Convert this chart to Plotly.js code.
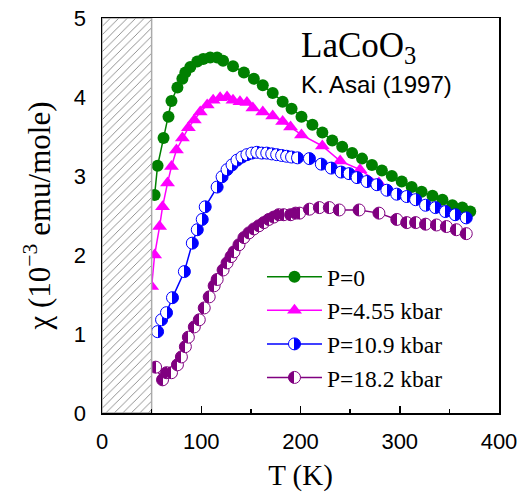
<!DOCTYPE html>
<html>
<head>
<meta charset="utf-8">
<script src="https://cdn.plot.ly/plotly-3.0.1.min.js"></script>
<style>html,body{margin:0;padding:0;background:#fff;}#chart{width:528px;height:492px;}</style>
</head>
<body>
<div id="chart"></div>
<script>
// P = 0
const T_p0 = [53,56,62,67,70,76,81,84,89,96,102,109,116,122,132,143,153,162,172,182,191,201,212,222,232,242,252,262,272,282,292,302,312,322,333,343,353,363,371];
const chi_p0 = [2.76,3.13,3.48,3.75,3.95,4.12,4.23,4.31,4.38,4.45,4.48,4.50,4.50,4.46,4.39,4.31,4.23,4.15,4.05,3.94,3.85,3.75,3.65,3.55,3.45,3.37,3.29,3.22,3.14,3.07,3.00,2.93,2.86,2.80,2.75,2.70,2.63,2.60,2.55];
// P = 4.55 kbar
const T_p455 = [50,53,58,61,66,70,75,81,87,93,99,106,112,119,126,132,139,146,152,162,172,182,190,201,222,240,260,279,300];
const chi_p455 = [1.60,2.00,2.36,2.61,2.91,3.12,3.33,3.48,3.61,3.71,3.81,3.90,3.96,3.99,4.00,3.96,3.94,3.93,3.86,3.81,3.76,3.69,3.62,3.52,3.38,3.19,3.08,2.91,2.75];
// P = 10.9 kbar
const T_p109 = [56,60,65,71,83,91,96,101,104,116,121,126,131,136,141,146,151,156,161,166,171,176,181,186,191,197,209,221,231,241,249,257,267,277,287,297,307,316,326,336,346,356,367];
const chi_p109 = [1.03,1.18,1.27,1.46,1.79,2.15,2.32,2.45,2.61,2.86,2.99,3.08,3.14,3.20,3.24,3.27,3.29,3.30,3.29,3.29,3.28,3.27,3.26,3.25,3.24,3.23,3.22,3.15,3.10,3.05,3.03,2.98,2.93,2.89,2.82,2.77,2.74,2.70,2.63,2.60,2.55,2.51,2.47];
// P = 18.2 kbar
const T_p182 = [54,61,65,70,76,80,84,87,93,98,103,108,113,116,122,126,130,133,138,143,148,153,158,163,168,173,178,183,190,195,199,209,219,229,239,259,279,297,307,316,326,337,347,357,367];
const chi_p182 = [0.58,0.42,0.51,0.51,0.61,0.71,0.84,0.96,1.09,1.18,1.33,1.47,1.61,1.69,1.81,1.90,1.98,2.04,2.13,2.22,2.28,2.33,2.37,2.41,2.45,2.48,2.51,2.51,2.51,2.53,2.53,2.58,2.60,2.60,2.57,2.57,2.53,2.45,2.41,2.41,2.39,2.38,2.36,2.32,2.27];
// excluded low-temperature region (hatched)
const hatchT = [0, 50, 50, 0, 0];
const hatchChi = [0, 0, 5, 5, 0];

const seriesNames = ['P=0', 'P=4.55 kbar', 'P=10.9 kbar', 'P=18.2 kbar'];

const traces = [
  {x:T_p0, y:chi_p0, name:seriesNames[0], mode:'lines+markers',
   line:{color:'#008000', width:1.5}, marker:{symbol:'circle', size:12, color:'#008000'}},
  {x:T_p455, y:chi_p455, name:seriesNames[1], mode:'lines+markers',
   line:{color:'#ff00ff', width:1.5}, marker:{symbol:'triangle-up', size:13, color:'#ff00ff'}},
  {x:T_p109, y:chi_p109, name:seriesNames[2], mode:'lines+markers',
   line:{color:'#0000ff', width:1.5},
   marker:{symbol:'circle', size:12, color:'#0000ff', gradient:{type:'horizontal', color:'#ffffff'}, line:{color:'#0000ff', width:1}}},
  {x:T_p182, y:chi_p182, name:seriesNames[3], mode:'lines+markers',
   line:{color:'#800080', width:1.5},
   marker:{symbol:'circle', size:12, color:'#800080', gradient:{type:'horizontal', color:'#ffffff'}, line:{color:'#800080', width:1}}},
  {x:hatchT, y:hatchChi, mode:'lines', fill:'toself', showlegend:false, hoverinfo:'skip',
   line:{color:'#aaaaaa', width:1.5}, fillcolor:'#ffffff',
   fillpattern:{shape:'/', fgcolor:'#666666', bgcolor:'#ffffff', size:6, solidity:0.12}}
];

const layout = {
  width:528, height:492,
  margin:{l:102, r:29, t:18, b:79},
  paper_bgcolor:'#ffffff', plot_bgcolor:'#ffffff',
  showlegend:true,
  legend:{x:0.403, y:0.40, xanchor:'left', yanchor:'top', bgcolor:'rgba(0,0,0,0)',
          font:{family:'Liberation Serif, Times New Roman, serif', size:23.5, color:'#000'},
          tracegroupgap:0, itemwidth:55},
  xaxis:{range:[0,400], dtick:100, tick0:0, ticks:'inside', ticklen:7, tickwidth:1.5, tickcolor:'#000',
         minor:{dtick:50, ticks:'inside', ticklen:4, tickwidth:1.5, tickcolor:'#000'},
         showline:true, linecolor:'#000', linewidth:1.5, mirror:true, showgrid:false, zeroline:false,
         ticklabelstandoff:8,
         tickfont:{family:'Liberation Sans, Arial, sans-serif', size:22, color:'#000'},
         title:{text:'T (K)', standoff:16, font:{family:'Liberation Serif, Times New Roman, serif', size:29, color:'#000'}}},
  yaxis:{range:[0,5], dtick:1, tick0:0, ticks:'',
         showline:true, linecolor:'#000', linewidth:1.5, mirror:true, showgrid:false, zeroline:false,
         ticklabelstandoff:10,
         tickfont:{family:'Liberation Sans, Arial, sans-serif', size:22, color:'#000'},
         title:{text:'χ (10<sup>−3</sup> emu/mole)', standoff:14, font:{family:'Liberation Serif, Times New Roman, serif', size:31, color:'#000'}}},
  annotations:[
    {xref:'paper', yref:'paper', x:0.497, y:0.925, xanchor:'left', yanchor:'middle', showarrow:false,
     text:'LaCoO<sub>3</sub>', font:{family:'Liberation Serif, Times New Roman, serif', size:35, color:'#000'}},
    {xref:'paper', yref:'paper', x:0.497, y:0.832, xanchor:'left', yanchor:'middle', showarrow:false,
     text:'K. Asai (1997)', font:{family:'Liberation Sans, Arial, sans-serif', size:24, color:'#000'}}
  ]
};

function fixGradients(){
  const gd = document.getElementById('chart');
  const grads = gd.querySelectorAll('linearGradient');
  grads.forEach(g => {
    const stops = g.querySelectorAll('stop');
    let col = null;
    stops.forEach(s => {
      const c = (s.getAttribute('stop-color') || '').replace(/\s/g,'').toLowerCase();
      if (c && c !== 'rgb(255,255,255)' && c !== '#ffffff' && c !== 'white') col = c;
    });
    if (!col) return;
    const isBlue = col.indexOf('0,0,255') >= 0 || col === '#0000ff';
    const leftCol = isBlue ? '#ffffff' : col;
    const rightCol = isBlue ? col : '#ffffff';
    g.setAttribute('x1','0'); g.setAttribute('x2','1'); g.setAttribute('y1','0'); g.setAttribute('y2','0');
    g.removeAttribute('gradientTransform');
    while (g.firstChild) g.removeChild(g.firstChild);
    [[0,leftCol],[0.5,leftCol],[0.5,rightCol],[1,rightCol]].forEach(([o,c]) => {
      const s = document.createElementNS('http://www.w3.org/2000/svg','stop');
      s.setAttribute('offset', String(o));
      s.setAttribute('stop-color', c);
      s.setAttribute('stop-opacity', '1');
      g.appendChild(s);
    });
  });
}

Plotly.newPlot('chart', traces, layout, {staticPlot:true, displayModeBar:false}).then(gd => {
  fixGradients();
  gd.on && gd.on('plotly_afterplot', fixGradients);
});
</script>
</body>
</html>
